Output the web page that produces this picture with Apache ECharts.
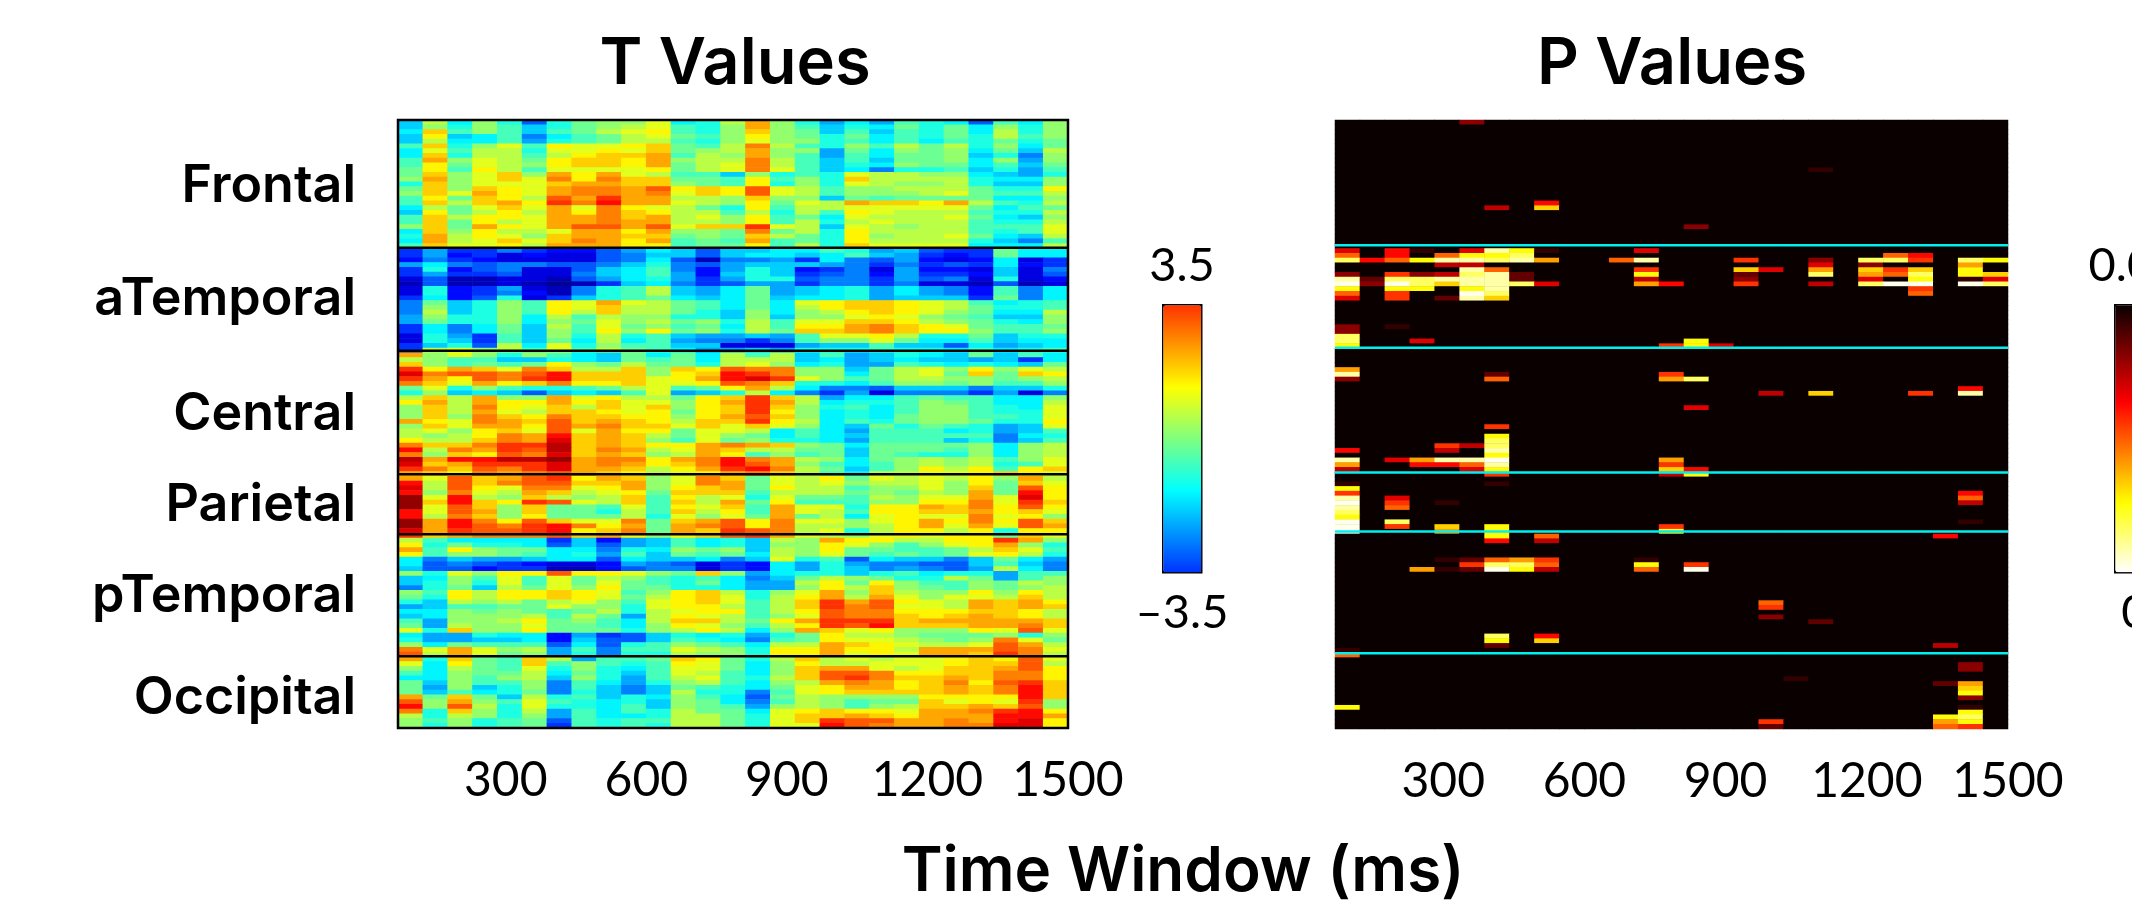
<!DOCTYPE html>
<html><head><meta charset="utf-8">
<style>html,body{margin:0;padding:0;background:#fff}#c{width:2132px;height:909px}</style>
<script src="https://cdn.jsdelivr.net/npm/echarts@6/dist/echarts.min.js"></script>
</head><body><div id="c"></div>
<script>
// T values, one string per channel, one letter per time window. A..Z = colour level.
const frontalT = [
"IOJNKFKMN NPJKOSNKH JHLKJFLJN","INKNLIKMN OPLKNSNLI KJMKMJNKN","JRLNLILMO PQLKNRNMI LILKMJOKN",
"IQIJLGJLM OPMLNQNMK MJLKMKOLN","IOJJLHKLM OOLKNPNNK LJLJLKMKM","LRKNPLQPP QRMLOTOLK NLOMOKNJM",
"JPLOOKPPQ PRMNOSNNH MJNMNJMIO","JRKOOLOQR RSLONSNLH LJMMNIKGN","LSNPOMQRR QSNOOTOLI LIMMNJNHN",
"LQMPONQRR QSMOPTOLI KJNMMJLIM","MQLQOLPPP PQMOPTPLI JGKKLIKHL","MRNPRNSQS POLLINKLK POONNJIHK",
"NSNPRPTQT RRMMLQLNK ROOOOKJJN","KRNPPPRSS RRNMLQKNK PONNOKIIN","MRNRQPSTT SUQRQUPOL NNOOOMKKQ",
"NRPSQPSTT STPRQUPOL NNNOPMLLO","LQMRQOUSV SSOONRNNI MLMMMMJJN","LRORSQVTW SSPONQMPO SRRQSOLKO",
"JOMPRPSPT QPOMKQLOO PPPPPMJLM","IQMOQOSQT RQOOLOKOL QPOOOLKKO","LROQQPSST RSOPNQLMJ POOOPMJIN",
"LRMQOPSST SSOONQLOK OPOOOLKKO","NRMSQPSUU SUPRRVPOI PONOOLLLP","JRNQOOPSS QSNNMTMOK QOOOOLKLP",
"KSOQPNRSS RRMNMROMK QNOOPMJIO","JSOPRPRTS QSLMLSLMK QOOOOKIGL","LRPPQOSSS QQLMMQLOK RPPPPJJJO"];
const aTemporalT = [
"EHEEGEDDF HJIFIIJJL KHIFEEMJJ","EHDECDCCF GIIFIJJIJ LIHEDEMJJ","DGEDCCCCF GJFBGGHEJ GFHDCDJCE",
"HJGFGGFFG IKGFHIIIH GEGEFEJDE","EKDFGCCFI JLGDHKIDE GCHDDCICG","EHEEFCCGI JLHDIKIEF GDHEEDICF",
"CFBBCCBFH JKHEHKKFG GEHFGCKCD","BFBBCBABE IJGEFHHEG GEGCCBFBC","CKDEHCBGK LOIHJMHIJ KHJHGDLGJ",
"CKDEGDBGK LOIHJMHIJ KHJHGDLGJ","EJDFKCEIK LMJIJMIJJ KHIIIEMGJ","GMIKNLQPS POMLJMJPQ RRQPOLJKL",
"GNIKNLQPR OOMLJMJOQ RRQPOMKKL","GOIKNLQOR OOMKINJNO QRQPNMJJO","HNKKNJOLO NNKKININN PQPNMLIIN",
"HMKKNJNMP NOMNKOLPP RRQONMKJN","EJGJMIOLP MNLMJOLQQ STRQPMLLM","EJGJMINLQ NQMNKOMRR STRQQNLLN",
"CKHELINKO KLIHHIHLP PQOKKMIKK","CKIELIMJO JLHGGEGLN NPMJJLIJJ","EIKFOJPKN LLIICCCHI ILIIFJHIJ",
"EOPNOLPLO MLJHHIHKK KLKKJLJKL"];
const centralT = [
"SNPNKNLJI MJMJOLOIL HIKJIMILJ","ONLLIIKJI MLMJOOOIJ HIJIIHIEJ","RNLMLMQNM OMMKOPNJK HHLKJKJIM",
"VQSRPTROO RNRQUTTNN IMOPNQNPO","XTUUTUWRR RNQRWVTNN JMOPMRMRQ","VSQUTVWRR RPQSWXVPN LMOONNMNO",
"TRPSQRTQQ RPPQUTRKK JLNNMNLLN","MPKNLKKLM OPLMQSOJG GFIIIGIIK","KNIJIFIJI LPHIKOJGE HCGGGEHCG",
"OROSNNSPQ OOMQRVROH JJLMLLJJN","QSOSQQSQR PPNQSVSOJ KKLNMLJJO","NROTQPROR PRNQRVRNK LJLNNLKJP",
"NROSPORRQ PQMQRVQNJ KJLNNLKKP","NRNTRQTRR QQNQSURNJ KJMNNLLKP","SQPTSRURS RQORRVQOJ LKMNNMKKQ",
"NRPSSQUST RRPRPRPNJ IMKMLKHIP","OPNQRPUPS QQMPPOJLJ HLLLJKHIL","ONOQTSWRS ROMPNMJLJ ILLLLLGJK",
"QOORTSXRS RNLPMNKKJ HLLLIKGIL","TRRTVVYRS RQQSTSRNM JMMMMNJNO","WOTSVUYRT SOPSROOMM IMMMLNJNO",
"TNRQUTXRS RNOSQLNLM IMLKKNJNO","YSWWYYZST TQSTWTSON JMNONOLNP","XRSVVVXST SQRTWUSNL JLNONOKLP",
"VTRUTVXSS ROQSVWTOM ILNQOQLQR","SRQTSTUSR QOPQSTROL JOOPPQRQP"];
const parietalT = [
"SPURSUVQS RNPTRMPOQ MPOPOQNSO","WOURTUURR SNPTSMPOP NOOPNQMRP","XOUQPTTPQ SNQRSMQOO LNNPNRMUQ",
"WNTPOSROP QMRRRLOOO MNMONSMWQ","ZPWONRONO RLQOPKPMM LONPPSPXQ","ZRWRQVUPO RLROSMQLL LNNQQTPVR",
"ZPURNRMML PLQPRLSPP KQQSRTQUQ","WPUSNRMMK OLROQLSPO LQQRRSQRP","WOTRNQMMM OKPNPMSMO JPQPPTPQN",
"ZSWTQURPP TMRSUQTPP NPQSQTQUR","ZSWUTVWTQ SMSTUQTOO NOQSPSPUS","XSVUUVWQR TMSRVUTOP KOQQOQKQQ",
"VRSTTTURS QNQRUVSPO NPQPQQMRP"];
const pTemporalT = [
"OLJJJJEID HILJKIONS QQOOQQVSN","QKMKKJFIF HILJKINNQ PNLNPQSNK","SLQNMMJJG KJNMNIONQ MMLLMORPL",
"QLNNMLJKH LIMLMJONP MLMLMPQOK","JGIHHIJJF JIIJGIPKL FJIIGIMJH","JFGFEDCCD HGFCEDJHK HGGFFILIG",
"IFFDEEBBD FGGCEDJHK IGHGFHOJG","NKPNQQUQQ PNMRNHJKK IKLJKKHLL","IJNLPLPMO NLKLJGIMO NMKKOMHLN",
"IKNKPLPMP MLKMJHHOQ MQNLLNMON","GKMIOMPNQ MMKKJHHNQ ORNMLNMNO","NLQOQQRQP LNQROKNPS NRONNQNQO",
"MKQOQQRQP MOQRPKOQS OSPNPPORO","KIONOMOPN LPQRPLORV SUQPOSRSQ","HILLMMPNN KPQQOLORV TUPPOSRSR",
"JJNMNMLMO KOPQQLOQU TTQQQRRQO","IJNNNOLOM HOQPOLNPU TTRQRSRQO","LHNNOQMNL JORROMQSV VVRSSSSSR",
"MHONNPMML JNQPNLOQV UWRRRSSTR","PKRNNQMMM KNOQOJNSR PQNNNQPUP","JHHKJJDHE FIKJKHKMQ OONMMMNKN",
"KHHIIJDIF FILKJGLMQ PPONMNTPM","NJMLLLFJF KLNMLJOOS RQPOOPUSO","TPSPNOHLG LLPONKQQS QQOSSSUTP",
"UOSPMNHKG KKONNKQQS PQPSSRVTO","SKRMLROHL LMRQMKORO POPPQRQUP"];
const occipitalT = [
"PJQMLRLNL KLQPMJNQO OPPPQRRUO","NJOMLPKNK JLPPMJNRS SPOPRRSUQ","LJNMMOJMK ILPOLJNRU UTQQRRTTQ",
"JJNLNOINK HLOPLKORU VTRRSRTTQ","MINLLNGLJ HKNOLJNOS TSQRTQUVR","MHNIKNGLI GIMLKJMPQ SSQRSRTWR",
"MILJKMGKI GIOKKGLPQ RRRRSRTWR","SMRMIOKLI KJNLJFMON NNNQQQQWR","UNSNLPLKJ KINMJGLON LMMRPQPVN",
"WNUOKPKKJ LINMLHNON LNORRSRUN","TKRNKOHLJ LKOMMJPQR QQPSSTVWQ","OKONKNHLJ JKOOMKPRR SRQSSSWWS",
"NLNKLMFLK LLOOMKPRV UUSSTSWXQ","NKNKLMELK LKOOMKPPW UTSSTTXXQ"];
// P values below 0.05: [channel row, "window:level ..."]; level 1..9,a..e goes from just below 0.05 to near 0.
const pHits = [
[0,"5:3"],[10,"19:1"],[17,"8:6"],[18,"6:4 8:a"],[22,"14:3"],
[27,"0:5 2:6 3:1 5:5 6:d 7:b 8:1 12:5"],[28,"0:8 2:6 4:8 5:b 6:b 7:c 22:8 23:6"],
[29,"0:c 1:6 2:8 3:b 4:d 5:d 6:c 7:d 8:9 11:8 12:d 16:7 19:3 21:c 22:c 23:7 25:c 26:b"],
[30,"4:4 5:4 19:5 21:3 25:9"],[31,"5:d 6:8 12:7 16:a 17:5 19:9 21:a 22:7 23:a 25:b"],
[32,"0:3 2:7 3:3 4:4 5:c 6:d 7:2 12:b 16:2 19:c 21:9 22:8 23:c 25:b 26:a"],
[33,"0:d 1:2 2:c 3:c 4:d 5:d 6:d 7:2 12:4 16:3 21:5 23:b 25:1 26:5"],
[34,"0:e 1:3 2:e 3:c 4:a 5:d 6:d 7:c 8:5 12:9 13:6 16:7 19:4 21:c 22:e 23:e 25:e 26:c"],
[35,"0:b 2:b 3:b 5:b 6:d 23:7"],[36,"0:8 2:7 5:e 6:c 23:8"],[37,"0:5 2:7 4:2 5:d 6:a"],
[43,"0:3 2:1"],[44,"0:3"],[45,"0:c"],[46,"0:c 3:5 14:b"],[47,"0:b 13:7 14:b 15:5"],
[52,"0:9"],[53,"0:d 6:2 13:7"],[54,"0:3 6:8 13:9 14:c"],[56,"25:6"],[57,"17:4 19:a 23:7 25:d"],[60,"14:5"],
[64,"6:7"],[66,"6:b"],[67,"6:c"],[68,"4:7 5:4 6:c"],[69,"0:6 4:4 6:d"],[70,"6:b"],
[71,"0:d 2:5 3:9 4:d 5:d 6:e 13:9"],[72,"0:9 3:6 4:6 5:8 6:d 13:7"],[73,"0:4 5:5 6:b 13:a 14:6"],
[74,"6:7 13:4 14:b"],[76,"0:1 6:1"],[77,"0:b"],[78,"0:7 25:6"],[79,"0:d 2:5 25:8"],[80,"0:e 2:7 4:1 25:4"],
[81,"0:d 2:8"],[82,"0:c"],[83,"0:b"],[84,"0:e 2:c 25:1"],[85,"0:e 2:7 4:a 6:b 13:7"],[86,"0:e 4:9 6:b 13:b"],
[87,"6:b 8:8 24:6"],[88,"6:6 8:4"],[92,"4:1 5:2 6:8 7:9 8:7 12:1"],[93,"5:7 6:c 7:c 8:8 12:b 14:7"],
[94,"3:9 4:1 5:2 6:e 7:b 8:4 12:8 14:e"],[101,"17:8"],[102,"17:7"],[104,"17:3"],[105,"19:2"],
[108,"6:c 8:6"],[109,"6:b 8:a"],[110,"6:2 24:4"],[111,"0:1"],[112,"0:8"],
[114,"25:3"],[115,"25:3"],[117,"18:1"],[118,"24:2 25:9"],[119,"25:a"],[120,"25:b"],[121,"25:3"],
[123,"0:b 25:1"],[124,"25:b"],[125,"24:b 25:c"],[126,"17:7 24:9 25:b"],[127,"17:2 24:8 25:7"]];
const tLevels = "ABCDEFGHIJKLMNOPQRSTUVWXYZ";
const pLevels = {"1":.06,"2":.13,"3":.19,"4":.27,"5":.32,"6":.37,"7":.44,"8":.51,"9":.6,a:.67,b:.745,c:.84,d:.91,e:.98};
const pNonSignificant = 0.05;
const tickLabelsMs = [300,600,900,1200,1500];
const regionNames = ["Frontal","aTemporal","Central","Parietal","pTemporal","Occipital"];
const regionCentres = [14,37.8,62,81.2,100.3,121.8];
const blackSeparators = [26.9,48.6,74.6,87.2,112.9];
const cyanSeparators = [26.3,47.85,74.1,86.5,112.1];
const timeRange = [70,1500];
const rowCount = 128, colCount = 27;
const tBarRange = [-3.5,3.5], pBarRange = [0,0.05];

const FONT = 'Lato', BOLD = 'Inter';
const tRows = [...frontalT,...aTemporalT,...centralT,...parietalT,...pTemporalT,...occipitalT].map(s=>s.replace(/ /g,''));
tRows.forEach((s,i)=>{ if(s.length!==colCount) throw new Error('row '+i+' has '+s.length); });
if(tRows.length!==rowCount) throw new Error('rows '+tRows.length);
const JET_HALF = 5.385;
const tData = [];
tRows.forEach((s,r)=>{ for(let c=0;c<colCount;c++){
  const f=(tLevels.indexOf(s[c])+0.5)/26;
  tData.push([c,r,+((f-0.5)*2*JET_HALF).toFixed(2)]);
}});
const pMatrix = Array.from({length:rowCount},()=>Array(colCount).fill(pNonSignificant));
pHits.forEach(([r,txt])=>txt.split(' ').forEach(t=>{
  const [c,l]=t.split(':'); pMatrix[r][+c]=+(pNonSignificant*(1-pLevels[l])).toFixed(4);
}));
const pData=[]; pMatrix.forEach((row,r)=>row.forEach((v,c)=>pData.push([c,r,v])));

function jet(f){
  const ch=x=>Math.round(255*Math.max(0,Math.min(1,x)));
  return `rgb(${ch(1.5-Math.abs(4*f-3))},${ch(1.5-Math.abs(4*f-2))},${ch(1.5-Math.abs(4*f-1))})`;
}
function hot(f){
  const ch=x=>Math.round(255*Math.max(0,Math.min(1,x)));
  return `rgb(${ch(0.04+0.96*f/0.365)},${ch((f-0.365)/0.375)},${ch((f-0.74)/0.26)})`;
}
const sample=(n,fn)=>Array.from({length:n},(_,i)=>fn(i/(n-1)));
const jetFull=sample(65,jet);
const jetBar=sample(40,t=>jet(0.175+0.65*t));
const hotFull=sample(65,t=>hot(1-t));

const cats=n=>Array.from({length:n},(_,i)=>i);
const catX=g=>({type:'category',gridIndex:g,data:cats(colCount),show:false});
const catY=g=>({type:'category',gridIndex:g,data:cats(rowCount),inverse:true,show:false});
const valX=g=>({type:'value',gridIndex:g,min:timeRange[0],max:timeRange[1],position:'bottom',
  axisLine:{show:false},axisTick:{show:false},splitLine:{show:false},
  axisLabel:{show:true,customValues:tickLabelsMs,color:'#000',fontFamily:FONT,fontSize:48,margin:29,formatter:v=>String(v)}});
const valY=(g,labels)=>({type:'value',gridIndex:g,min:0,max:rowCount,inverse:true,position:'left',
  axisLine:{show:false},axisTick:{show:false},splitLine:{show:false},
  axisLabel:labels?{show:true,customValues:regionCentres,color:'#000',fontFamily:BOLD,fontWeight:600,fontSize:52,margin:42,
    formatter:(v)=>regionNames[regionCentres.indexOf(v)]}:{show:false}});

const sepSeries=(list,color,width,g)=>list.map(y=>({type:'line',xAxisIndex:g*2+1,yAxisIndex:g*2+1,
  data:[[timeRange[0],y],[timeRange[1],y]],showSymbol:false,silent:true,clip:false,z:6,animation:false,
  lineStyle:{color,width,cap:'butt'}}));
const frame={type:'line',xAxisIndex:1,yAxisIndex:1,
  data:[[timeRange[0],0],[timeRange[1],0],[timeRange[1],rowCount],[timeRange[0],rowCount],[timeRange[0],0]],
  showSymbol:false,silent:true,clip:false,z:7,animation:false,lineStyle:{color:'#000',width:2.5,cap:'square',join:'miter'}};

const txt=(text,cx,cy,size,weight,fam)=>({text,left:cx,top:cy,textAlign:'center',textVerticalAlign:'middle',padding:0,
  textStyle:{color:'#000',fontFamily:fam,fontSize:size,fontWeight:weight}});

const chart=echarts.init(document.getElementById('c'),null,{renderer:'canvas',width:2132,height:909});
chart.setOption({
  animation:false,backgroundColor:'#fff',
  title:[
    txt('T Values',735,64,65,600,BOLD),txt('P Values',1672,64,65,600,BOLD),txt('Time Window (ms)',1183,872,62,600,BOLD),
    txt('3.5',1182,266,47,400,FONT),txt('\u20133.5',1182,613,47,400,FONT),
    txt('0.05',2135,266,47,400,FONT),txt('0',2135,613,47,400,FONT)
  ],
  grid:[{show:true,borderWidth:0,backgroundColor:'#7fff80',left:398,top:120,width:670,height:608},
        {show:true,borderWidth:0,backgroundColor:'#0a0000',left:1335,top:120,width:673,height:609}],
  xAxis:[catX(0),valX(0),catX(1),valX(1)],
  yAxis:[catY(0),valY(0,true),catY(1),valY(1,false)],
  visualMap:[
    {show:false,type:'continuous',seriesIndex:0,dimension:2,min:-JET_HALF,max:JET_HALF,inRange:{color:jetFull}},
    {show:false,type:'continuous',seriesIndex:1,dimension:2,min:0,max:pNonSignificant,inRange:{color:hotFull}},
    {show:true,type:'continuous',seriesIndex:2,dimension:2,min:tBarRange[0],max:tBarRange[1],inRange:{color:jetBar},
      left:1162,top:304,itemWidth:38,itemHeight:267,padding:0,text:null,calculable:false,hoverLink:false,
      showLabel:false,borderColor:'#000',borderWidth:2.5},
    {show:true,type:'continuous',seriesIndex:3,dimension:2,min:pBarRange[0],max:pBarRange[1],inRange:{color:hotFull},
      left:2114,top:304,itemWidth:38,itemHeight:267,padding:0,text:null,calculable:false,hoverLink:false,
      showLabel:false,borderColor:'#000',borderWidth:2.5}
  ],
  series:[
    {type:'heatmap',xAxisIndex:0,yAxisIndex:0,data:tData,progressive:0,silent:true,animation:false},
    {type:'heatmap',xAxisIndex:2,yAxisIndex:2,data:pData,progressive:0,silent:true,animation:false},
    {type:'heatmap',xAxisIndex:0,yAxisIndex:0,data:[],silent:true},
    {type:'heatmap',xAxisIndex:2,yAxisIndex:2,data:[],silent:true},
    frame,
    ...sepSeries(blackSeparators,'#000',2.5,0),
    ...sepSeries(cyanSeparators,'#00f0f0',2.5,1)
  ]
});
</script></body></html>
